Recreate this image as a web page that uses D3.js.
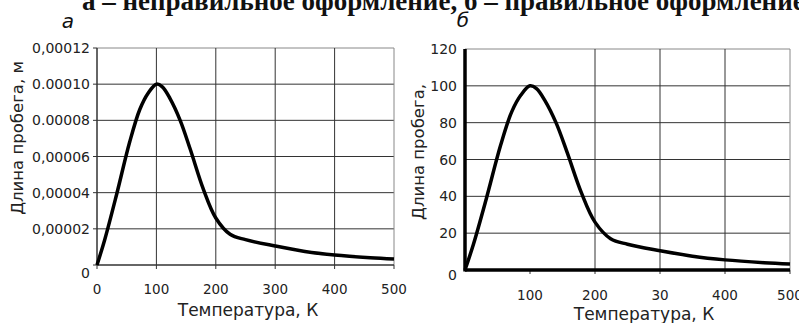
<!DOCTYPE html>
<html>
<head>
<meta charset="utf-8">
<script src="https://cdn.jsdelivr.net/npm/d3@7"></script>
<style>
    body { margin: 0; background: #fff; }
    svg { display: block; }
    text { font-family: "DejaVu Sans", Verdana, sans-serif; fill: #222; }
</style>
</head>
<body>
<div id="chart"></div>
<script>
// Temperature (K) and range (µm)
const temperature = [0, 13, 33, 55, 72, 86, 100, 110, 123, 140, 157, 179, 200, 224, 250, 300, 350, 400, 460, 500];
const rangeMicro = [0, 14, 39, 68, 86, 95, 100, 98.5, 92, 80, 64, 42, 26, 17, 14, 10.5, 7.5, 5.5, 4, 3.3];

// panel a: values in metres, odd tick labels as printed
const leftYTicks = [0, 0.00002, 0.00004, 0.00006, 0.00008, 0.0001, 0.00012];
const leftYLabels = ['0', '0,00002', '0,00004', '0,00006', '0.00008', '0.00010', '0,00012'];
const leftXTicks = [0, 100, 200, 300, 400, 500];
const leftXLabels = ['0', '100', '200', '300', '400', '500'];

// panel б
const rightYTicks = [0, 20, 40, 60, 80, 100, 120];
const rightXTicks = [100, 200, 300, 400, 500];
const rightXLabels = ['100', '200', '30', '400', '500'];
const rightGridX = [200, 300, 400, 500];

const width = 799, height = 323;

const svg = d3.select('#chart').append('svg')
    .attr('width', width)
    .attr('height', height);

// caption cut at the top edge
svg.append('text')
    .attr('x', 82)
    .attr('y', 10)
    .style('font-family', '"Liberation Serif", "Times New Roman", serif')
    .style('font-weight', 'bold')
    .style('font-size', '27px')
    .style('fill', '#111')
    .text('а – неправильное оформление, б – правильное оформление');

const line = d3.line().curve(d3.curveCatmullRom.alpha(0.5));

// ---------- panel a ----------
{
    const x = d3.scaleLinear().domain([0, 500]).range([97, 394]);
    const y = d3.scaleLinear().domain([0, 0.00012]).range([265, 48]);
    const g = svg.append('g');

    g.append('text')
        .attr('x', 68).attr('y', 28)
        .attr('text-anchor', 'middle')
        .style('font-style', 'italic')
        .style('font-size', '20px')
        .style('fill', '#111')
        .text('а');

    // grid
    g.selectAll('.gy').data(leftYTicks.slice(1)).join('line')
        .attr('x1', x(0)).attr('x2', x(500))
        .attr('y1', d => y(d)).attr('y2', d => y(d))
        .attr('stroke', (d, i, n) => i === n.length - 1 ? '#888' : '#333')
        .attr('stroke-width', 1);
    g.selectAll('.gx').data(leftXTicks.slice(1)).join('line')
        .attr('x1', d => x(d)).attr('x2', d => x(d))
        .attr('y1', y(0)).attr('y2', y(0.00012))
        .attr('stroke', (d, i, n) => i === n.length - 1 ? '#888' : '#333')
        .attr('stroke-width', 1);

    // axes
    g.append('line')
        .attr('x1', x(0)).attr('x2', x(0))
        .attr('y1', y(0)).attr('y2', y(0.00012))
        .attr('stroke', '#333').attr('stroke-width', 1.5);
    g.append('line')
        .attr('x1', x(0)).attr('x2', x(500))
        .attr('y1', y(0)).attr('y2', y(0))
        .attr('stroke', '#333').attr('stroke-width', 1.5);
    g.selectAll('.ty').data(leftYTicks).join('line')
        .attr('x1', x(0) - 4).attr('x2', x(0))
        .attr('y1', d => y(d)).attr('y2', d => y(d))
        .attr('stroke', '#333');
    g.selectAll('.tx').data(leftXTicks).join('line')
        .attr('x1', d => x(d)).attr('x2', d => x(d))
        .attr('y1', y(0)).attr('y2', y(0) + 4)
        .attr('stroke', '#333');

    g.selectAll('.ly').data(leftYTicks).join('text')
        .attr('x', 90)
        .attr('y', (d, i) => y(d) + (i === 0 ? 13 : 5))
        .attr('text-anchor', 'end')
        .style('font-size', '14px')
        .text((d, i) => leftYLabels[i]);
    g.selectAll('.lx').data(leftXTicks).join('text')
        .attr('x', d => x(d))
        .attr('y', 294)
        .attr('text-anchor', 'middle')
        .style('font-size', '13.5px')
        .text((d, i) => leftXLabels[i]);

    g.append('text')
        .attr('transform', 'translate(23,138) rotate(-90)')
        .attr('text-anchor', 'middle')
        .style('font-size', '16.5px')
        .text('Длина пробега, м');
    g.append('text')
        .attr('x', 248).attr('y', 316)
        .attr('text-anchor', 'middle')
        .style('font-size', '17px')
        .text('Температура, К');

    g.append('path')
        .attr('d', line(temperature.map((t, i) => [x(t), y(rangeMicro[i] * 1e-6)])))
        .attr('fill', 'none')
        .attr('stroke', '#000')
        .attr('stroke-width', 3.5)
        .attr('stroke-linejoin', 'round');
}

// ---------- panel б ----------
{
    const x = d3.scaleLinear().domain([0, 500]).range([465, 790]);
    const y = d3.scaleLinear().domain([0, 120]).range([270, 49]);
    const g = svg.append('g');

    g.append('text')
        .attr('x', 463).attr('y', 27)
        .attr('text-anchor', 'middle')
        .style('font-style', 'italic')
        .style('font-size', '20px')
        .style('fill', '#111')
        .text('б');

    g.selectAll('.gy').data(rightYTicks.slice(1)).join('line')
        .attr('x1', x(0)).attr('x2', x(500))
        .attr('y1', d => y(d)).attr('y2', d => y(d))
        .attr('stroke', (d, i, n) => i === n.length - 1 ? '#888' : '#333')
        .attr('stroke-width', 1);
    g.selectAll('.gx').data(rightGridX).join('line')
        .attr('x1', d => x(d)).attr('x2', d => x(d))
        .attr('y1', y(0)).attr('y2', y(120))
        .attr('stroke', (d, i, n) => i === n.length - 1 ? '#888' : '#333')
        .attr('stroke-width', 1);
    g.selectAll('.tx').data(rightXTicks).join('line')
        .attr('x1', d => x(d)).attr('x2', d => x(d))
        .attr('y1', y(0)).attr('y2', y(0) + 4)
        .attr('stroke', '#333');

    // thick axes
    g.append('line')
        .attr('x1', x(0)).attr('x2', x(0))
        .attr('y1', y(0) + 1.5).attr('y2', y(120))
        .attr('stroke', '#000').attr('stroke-width', 3.5);
    g.append('line')
        .attr('x1', x(0)).attr('x2', x(500))
        .attr('y1', y(0)).attr('y2', y(0))
        .attr('stroke', '#000').attr('stroke-width', 3.5);

    g.selectAll('.ly').data(rightYTicks).join('text')
        .attr('x', 457)
        .attr('y', (d, i) => y(d) + (i === 0 ? 10 : 5))
        .attr('text-anchor', 'end')
        .style('font-size', '14px')
        .text(d => d);
    g.selectAll('.lx').data(rightXTicks).join('text')
        .attr('x', d => x(d))
        .attr('y', 300)
        .attr('text-anchor', 'middle')
        .style('font-size', '13.5px')
        .text((d, i) => rightXLabels[i]);

    g.append('text')
        .attr('transform', 'translate(424,152) rotate(-90)')
        .attr('text-anchor', 'middle')
        .style('font-size', '16.5px')
        .text('Длина пробега,');
    g.append('text')
        .attr('x', 644).attr('y', 320)
        .attr('text-anchor', 'middle')
        .style('font-size', '17px')
        .text('Температура, К');

    g.append('path')
        .attr('d', line(temperature.map((t, i) => [x(t), y(rangeMicro[i])])))
        .attr('fill', 'none')
        .attr('stroke', '#000')
        .attr('stroke-width', 3.5)
        .attr('stroke-linejoin', 'round');
}
</script>
</body>
</html>
